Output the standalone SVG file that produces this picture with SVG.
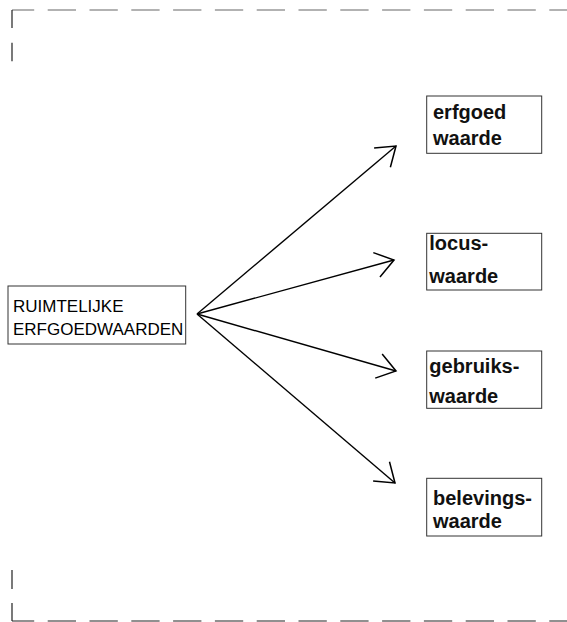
<svg xmlns="http://www.w3.org/2000/svg" width="567" height="622" viewBox="0 0 567 622">
<defs>
<style>
.frame{fill:none;stroke:#222;stroke-width:1.2}
.frame.top{stroke:#666}
.box{fill:#fff;stroke:#333;stroke-width:1}
.conn{fill:none;stroke:#000;stroke-width:1.4}
.reg{font-family:"Liberation Sans",Arial,sans-serif;font-size:17px;fill:#000}
.bold{font-family:"Liberation Sans",Arial,sans-serif;font-size:20px;font-weight:bold;fill:#111}
</style>
<marker id="arr" markerUnits="userSpaceOnUse" markerWidth="40" markerHeight="40" viewBox="-30 -20 40 40" refX="0" refY="0" orient="auto">
<path d="M-18,-12.6 L0,0 L-18,12.6" fill="none" stroke="#000" stroke-width="1.5"/>
</marker>
</defs>
<g id="frame">
<path class="frame top" d="M12,10 H570" stroke-dasharray="28.3 13.5" stroke-dashoffset="6.1"/>
<path class="frame" d="M12,621 H570" stroke-dasharray="28.3 13.5" stroke-dashoffset="6.1"/>
<path class="frame" d="M12,10 V28 M12,42.7 V61.3 M12,570 V589 M12,603 V621"/>
</g>
<g id="connectors">
<line class="conn" x1="197" y1="314" x2="396" y2="146" marker-end="url(#arr)"/>
<line class="conn" x1="197" y1="314" x2="394" y2="260" marker-end="url(#arr)"/>
<line class="conn" x1="197" y1="314" x2="396" y2="371" marker-end="url(#arr)"/>
<line class="conn" x1="197" y1="314" x2="395" y2="483" marker-end="url(#arr)"/>
</g>
<g id="ruimtelijke">
<rect class="box" x="8" y="286" width="177.7" height="58"/>
<text class="reg" x="13" y="311.7">RUIMTELIJKE</text>
<text class="reg" x="13" y="335">ERFGOEDWAARDEN</text>
</g>
<g id="erfgoed">
<rect class="box" x="426.7" y="96" width="115" height="57.3"/>
<text class="bold" x="433" y="119.3">erfgoed</text>
<text class="bold" x="433" y="145">waarde</text>
</g>
<g id="locus">
<rect class="box" x="426.7" y="233.3" width="115" height="56.7"/>
<text class="bold" x="429.3" y="250">locus-</text>
<text class="bold" x="429.3" y="282.7">waarde</text>
</g>
<g id="gebruiks">
<rect class="box" x="426.7" y="351" width="115" height="57.3"/>
<text class="bold" x="429.3" y="373.3">gebruiks-</text>
<text class="bold" x="429.3" y="403.3">waarde</text>
</g>
<g id="belevings">
<rect class="box" x="426.7" y="478.3" width="115" height="57.7"/>
<text class="bold" x="433" y="505">belevings-</text>
<text class="bold" x="433" y="528.3">waarde</text>
</g>
</svg>
